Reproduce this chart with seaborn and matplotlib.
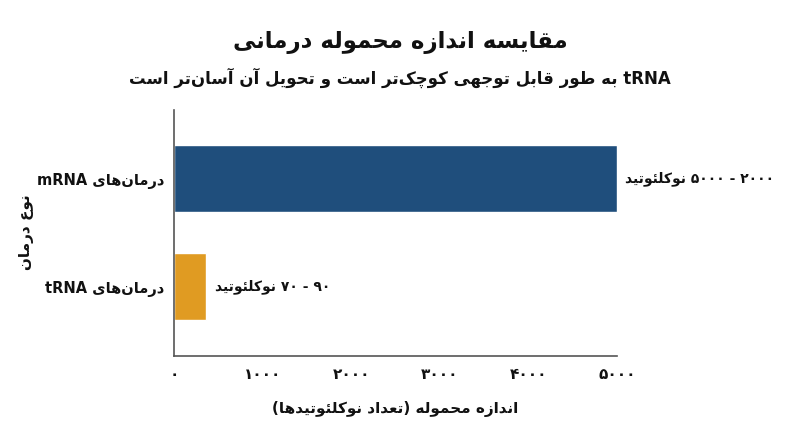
import matplotlib
matplotlib.use("Agg")
import matplotlib.pyplot as plt
import seaborn as sns
from matplotlib.ticker import FuncFormatter

# data
categories = ["درمان‌های mRNA", "درمان‌های tRNA"]
payload_size = [5000, 360]
value_labels = ["۲۰۰۰ - ۵۰۰۰ نوکلئوتید", "۹۰ - ۷۰ نوکلئوتید"]
bar_colors = ["#1f4e7c", "#e09b22"]
x_ticks = [0, 1000, 2000, 3000, 4000, 5000]

title = "مقایسه اندازه محموله درمانی"
subtitle = "tRNA به طور قابل توجهی کوچک‌تر است و تحویل آن آسان‌تر است"
x_label = "اندازه محموله (تعداد نوکلئوتیدها)"
y_label = "نوع درمان"


# --- minimal persian shaping + bidi, matplotlib does not do it itself ---
# isolated, final, initial, medial
FORMS = {
    "ا": (0xFE8D, 0xFE8E), "آ": (0xFE81, 0xFE82),
    "ب": (0xFE8F, 0xFE90, 0xFE91, 0xFE92), "پ": (0xFB56, 0xFB57, 0xFB58, 0xFB59),
    "ت": (0xFE95, 0xFE96, 0xFE97, 0xFE98), "ث": (0xFE99, 0xFE9A, 0xFE9B, 0xFE9C),
    "ج": (0xFE9D, 0xFE9E, 0xFE9F, 0xFEA0), "چ": (0xFB7A, 0xFB7B, 0xFB7C, 0xFB7D),
    "ح": (0xFEA1, 0xFEA2, 0xFEA3, 0xFEA4), "خ": (0xFEA5, 0xFEA6, 0xFEA7, 0xFEA8),
    "د": (0xFEA9, 0xFEAA), "ذ": (0xFEAB, 0xFEAC), "ر": (0xFEAD, 0xFEAE),
    "ز": (0xFEAF, 0xFEB0), "ژ": (0xFB8A, 0xFB8B),
    "س": (0xFEB1, 0xFEB2, 0xFEB3, 0xFEB4), "ش": (0xFEB5, 0xFEB6, 0xFEB7, 0xFEB8),
    "ص": (0xFEB9, 0xFEBA, 0xFEBB, 0xFEBC), "ض": (0xFEBD, 0xFEBE, 0xFEBF, 0xFEC0),
    "ط": (0xFEC1, 0xFEC2, 0xFEC3, 0xFEC4), "ظ": (0xFEC5, 0xFEC6, 0xFEC7, 0xFEC8),
    "ع": (0xFEC9, 0xFECA, 0xFECB, 0xFECC), "غ": (0xFECD, 0xFECE, 0xFECF, 0xFED0),
    "ف": (0xFED1, 0xFED2, 0xFED3, 0xFED4), "ق": (0xFED5, 0xFED6, 0xFED7, 0xFED8),
    "ک": (0xFB8E, 0xFB8F, 0xFB90, 0xFB91), "گ": (0xFB92, 0xFB93, 0xFB94, 0xFB95),
    "ل": (0xFEDD, 0xFEDE, 0xFEDF, 0xFEE0), "م": (0xFEE1, 0xFEE2, 0xFEE3, 0xFEE4),
    "ن": (0xFEE5, 0xFEE6, 0xFEE7, 0xFEE8), "ه": (0xFEE9, 0xFEEA, 0xFEEB, 0xFEEC),
    "و": (0xFEED, 0xFEEE), "ی": (0xFBFC, 0xFBFD, 0xFBFE, 0xFBFF),
    "ئ": (0xFE89, 0xFE8A, 0xFE8B, 0xFE8C),
}


def dual(c):
    return c in FORMS and len(FORMS[c]) == 4


def shape(s):
    out = []
    for i, c in enumerate(s):
        if c not in FORMS:
            if c != "\u200c":
                out.append(c)
            continue
        prev = s[i - 1] if i > 0 else ""
        nxt = s[i + 1] if i + 1 < len(s) else ""
        to_prev = dual(prev)
        to_next = dual(c) and nxt in FORMS
        f = FORMS[c]
        if to_prev and to_next:
            out.append(chr(f[3]))
        elif to_prev:
            out.append(chr(f[1]))
        elif to_next:
            out.append(chr(f[2]))
        else:
            out.append(chr(f[0]))
    return "".join(out)


def is_ltr(c):
    return c.isascii() and c.isalnum() or "\u06f0" <= c <= "\u06f9"


def fa(s):
    s = shape(s)
    runs = []
    for c in s:
        kind = is_ltr(c)
        if runs and runs[-1][0] == kind:
            runs[-1][1] += c
        else:
            runs.append([kind, c])
    mirror = {"(": ")", ")": "("}
    parts = []
    for kind, txt in reversed(runs):
        if kind:
            parts.append(txt)
        else:
            parts.append("".join(mirror.get(c, c) for c in reversed(txt)))
    return "".join(parts)


def fa_num(v, pos=None):
    return "".join(chr(0x06F0 + int(d)) for d in str(int(v)))


sns.set_theme(style="white")
plt.rcParams["font.family"] = ["DejaVu Sans"]
plt.rcParams["font.weight"] = "bold"

fig, ax = plt.subplots(figsize=(8, 4.47), dpi=100)
fig.subplots_adjust(left=0.218, right=0.771, bottom=0.204, top=0.755)

cats = [fa(c) for c in categories]
sns.barplot(x=payload_size, y=cats, hue=cats, palette=bar_colors,
            saturation=1, orient="h", width=0.62, legend=False, ax=ax)

for cont, lab in zip(ax.containers, value_labels):
    ax.bar_label(cont, labels=[fa(lab)], padding=6, fontsize=10,
                 fontweight="bold", color="#111111")

ax.set_xlim(0, 5000)
ax.set_ylim(1.64, -0.64)
ax.set_xticks(x_ticks)
ax.xaxis.set_major_formatter(FuncFormatter(fa_num))
ax.tick_params(axis="x", length=0, labelsize=11, colors="#111111", pad=8)
ax.tick_params(axis="y", length=0, labelsize=10.5, colors="#111111", pad=7)
for t in ax.get_xticklabels() + ax.get_yticklabels():
    t.set_fontweight("bold")

sns.despine(ax=ax)
for side in ["left", "bottom"]:
    ax.spines[side].set_color("#555555")
    ax.spines[side].set_linewidth(1.2)

ax.set_xlabel(fa(x_label), fontsize=11, fontweight="bold", labelpad=14,
              color="#111111")
ax.set_ylabel(fa(y_label), fontsize=11, fontweight="bold", color="#111111")
ax.yaxis.set_label_coords(-0.318, 0.5)

fig.text(0.5, 0.906, fa(title), ha="center", va="center", fontsize=16.5,
         fontweight="bold", color="#111111")
fig.text(0.5, 0.826, fa(subtitle), ha="center", va="center", fontsize=12,
         fontweight="bold", color="#111111")

fig.savefig("out.png", dpi=100)
